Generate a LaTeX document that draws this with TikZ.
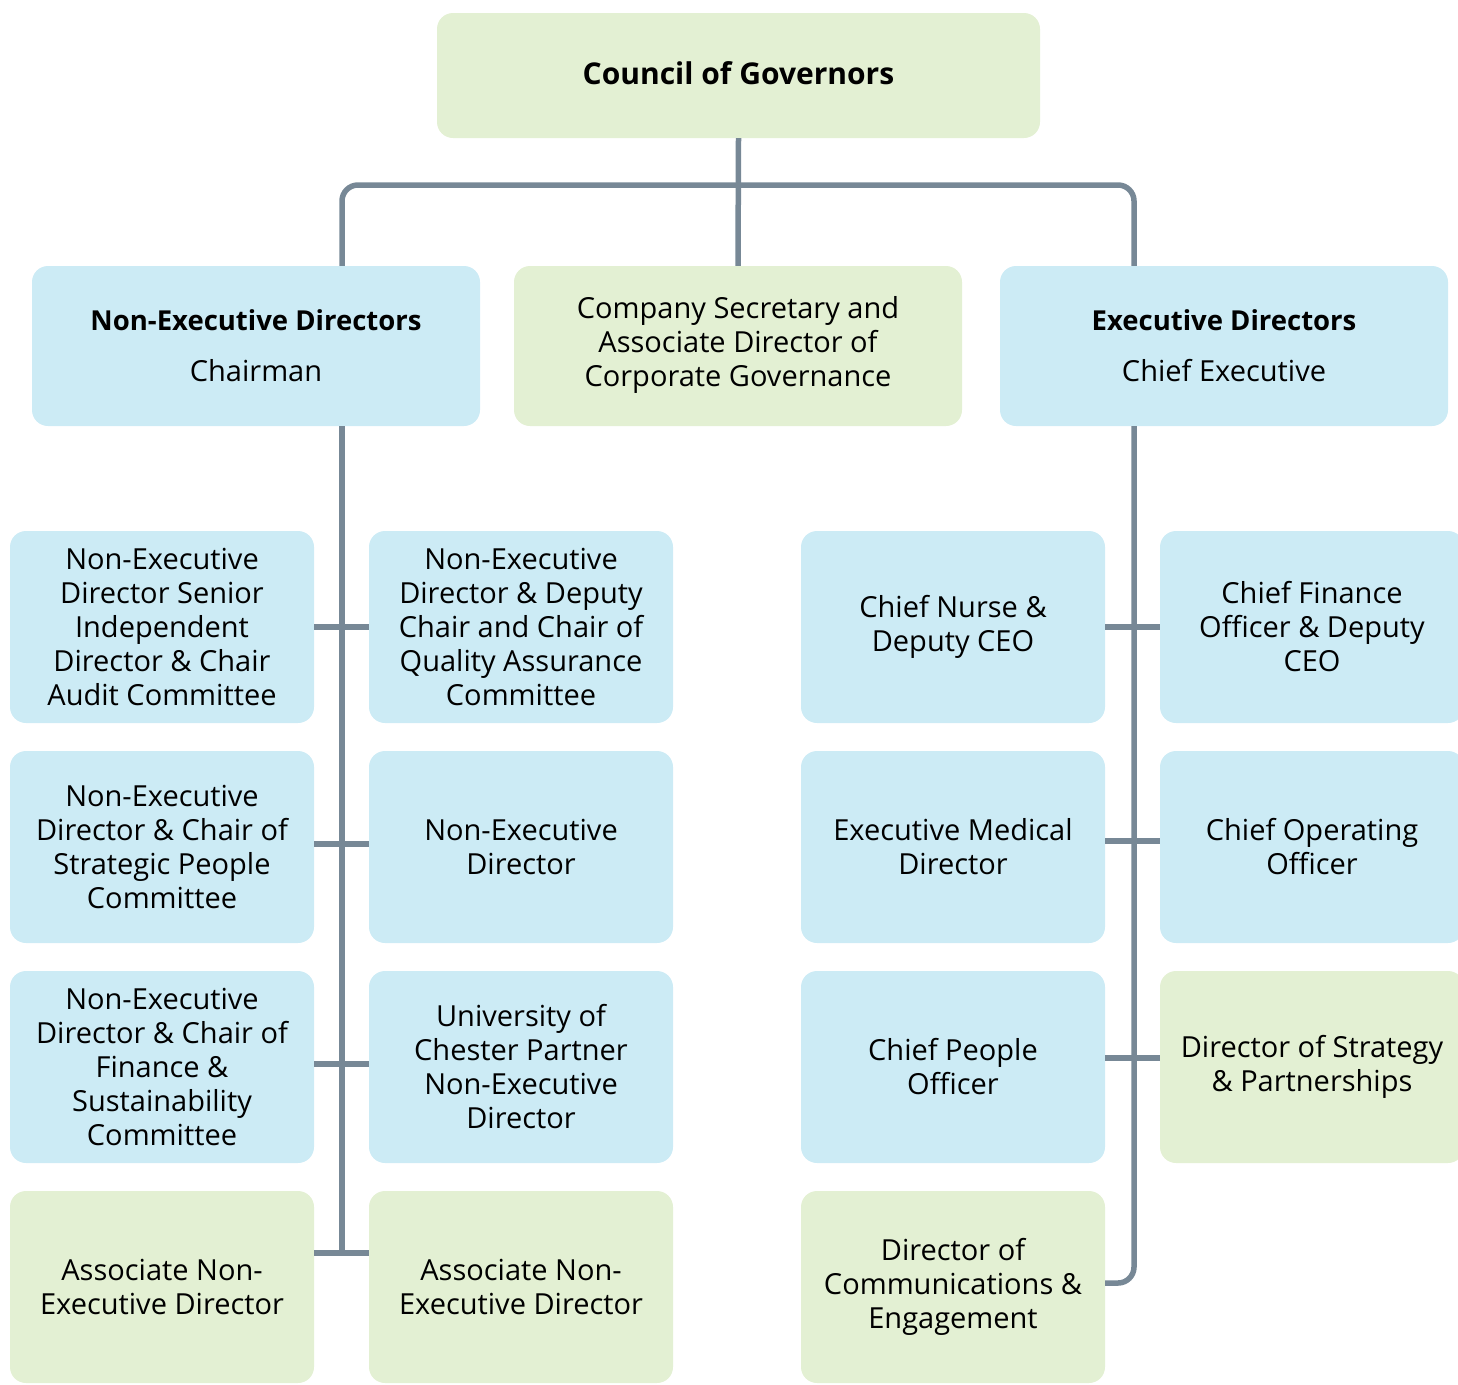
\documentclass[tikz,border=0pt]{standalone}
\usepackage{fontspec}
\setmainfont{Open Sans}
\definecolor{bluebox}{HTML}{CCEBF5}
\definecolor{greenbox}{HTML}{E3F0D3}
\definecolor{conn}{HTML}{778896}
\begin{document}
\begin{tikzpicture}[x=1pt,y=-1pt,
  box/.style={rectangle,rounded corners=16pt,inner sep=0pt,align=center,
    font=\fontsize{29}{34}\selectfont,text=black},
  cell/.style={box,minimum width=304pt,minimum height=192pt},
  head/.style={box,minimum width=448pt,minimum height=160pt},
  bb/.style={fill=bluebox},
  gb/.style={fill=greenbox},
  ln/.style={draw=conn,line width=5.5pt}]
\useasboundingbox (0,0) rectangle (1458,1384);
\coordinate (lt) at (342,185);
\coordinate (rt) at (1134,185);
\coordinate (lb) at (342,1253);
\coordinate (rb) at (1134,1283);
% top
\node[box,gb,minimum width=603pt,minimum height=125pt,
  font=\fontsize{30}{34}\selectfont\bfseries] (cog) at (738.5,75.5) {\raisebox{4pt}{Council of Governors}};
\node[head,bb] (ned) at (256,346) {\textbf{\fontsize{27.5}{34}\selectfont Non-Executive Directors}\\[17pt]Chairman};
\node[head,gb] (cs) at (738,346) {\raisebox{-3pt}{\begin{tabular}{@{}c@{}}Company Secretary and\\Associate Director of\\Corporate Governance\end{tabular}}};
\node[head,bb] (ed) at (1224,346) {\textbf{\fontsize{27.5}{34}\selectfont Executive Directors}\\[17pt]Chief Executive};
% grid
\node[cell,bb] (a1) at (162,627) {Non-Executive\\Director Senior\\Independent\\Director \& Chair\\Audit Committee};
\node[cell,bb] (b1) at (521,627) {Non-Executive\\Director \& Deputy\\Chair and Chair of\\Quality Assurance\\Committee};
\node[cell,bb] (c1) at (953,627) {Chief Nurse \&\\Deputy CEO};
\node[cell,bb] (d1) at (1312,627) {Chief Finance\\Officer \& Deputy\\CEO};
\node[cell,bb] (a2) at (162,847) {Non-Executive\\Director \& Chair of\\Strategic People\\Committee};
\node[cell,bb] (b2) at (521,847) {Non-Executive\\Director};
\node[cell,bb] (c2) at (953,847) {Executive Medical\\Director};
\node[cell,bb] (d2) at (1312,847) {Chief Operating\\Officer};
\node[cell,bb] (a3) at (162,1067) {Non-Executive\\Director \& Chair of\\Finance \&\\Sustainability\\Committee};
\node[cell,bb] (b3) at (521,1067) {University of\\Chester Partner\\Non-Executive\\Director};
\node[cell,bb] (c3) at (953,1067) {Chief People\\Officer};
\node[cell,gb] (d3) at (1312,1067) {Director of Strategy\\\& Partnerships};
\node[cell,gb] (a4) at (162,1287) {Associate Non-\\Executive Director};
\node[cell,gb] (b4) at (521,1287) {Associate Non-\\Executive Director};
\node[cell,gb] (c4) at (953,1287) {Director of\\Communications \&\\Engagement};
% connectors
\draw[ln] (cog.south) -- (cs.north);
\draw[ln,rounded corners=16pt] (ned.north -| lt) -- (lt) -- (rt) -- (ed.north -| rt);
\draw[ln] (ned.south -| lt) -- (lb);
\draw[ln,rounded corners=16pt] (ed.south -| rt) -- (rb) -- (c4.east |- rb);
\draw[ln] (a1.east) -- (b1.west);
\draw[ln] ([yshift=3pt]a2.east) -- ([yshift=3pt]b2.west);
\draw[ln] ([yshift=3pt]a3.east) -- ([yshift=3pt]b3.west);
\draw[ln] (a4.east |- lb) -- (b4.west |- lb);
\draw[ln] (c1.east) -- (d1.west);
\draw[ln] ([yshift=6pt]c2.east) -- ([yshift=6pt]d2.west);
\draw[ln] ([yshift=9pt]c3.east) -- ([yshift=9pt]d3.west);
\end{tikzpicture}
\end{document}
